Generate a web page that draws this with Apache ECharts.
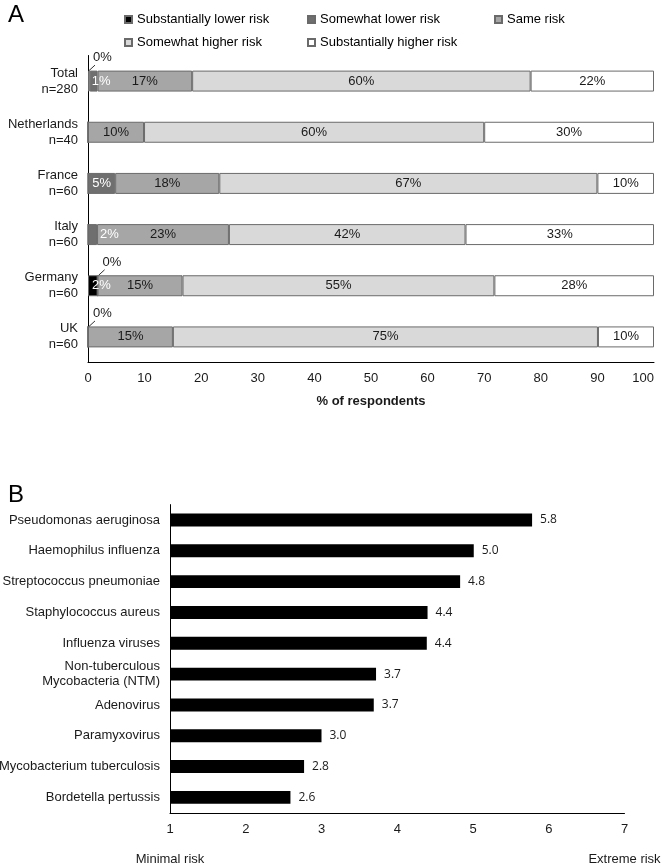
<!DOCTYPE html>
<html><head><meta charset="utf-8">
<script src="https://cdn.jsdelivr.net/npm/echarts@6/dist/echarts.min.js"></script>
<style>html,body{margin:0;padding:0;background:#fff}#c{width:661px;height:865px}</style>
</head><body><div id="c"></div>
<script>
// ---------- Panel A data ----------
const countries = ['Total\nn=280', 'Netherlands\nn=40', 'France\nn=60', 'Italy\nn=60', 'Germany\nn=60', 'UK\nn=60'];
const riskNames = ['Substantially lower risk', 'Somewhat lower risk', 'Same risk', 'Somewhat higher risk', 'Substantially higher risk'];
const substantiallyLower = [0.3, 0, 0, 0, 1.7, 0];
const somewhatLower = [1.4, 0, 4.8, 1.6, 0, 0];
const sameRisk = [16.7, 9.9, 18.4, 23.3, 15.0, 15.0];
const somewhatHigher = [59.8, 60.1, 66.8, 41.8, 55.1, 75.1];
const substantiallyHigher = [21.8, 30.0, 10.0, 33.3, 28.2, 9.9];
const lblSubstantiallyLower = ['0%', '', '', '', '2%', '0%'];
const lblSomewhatLower = ['1%', '', '5%', '2%', '0%', ''];
const lblSameRisk = ['17%', '10%', '18%', '23%', '15%', '15%'];
const lblSomewhatHigher = ['60%', '60%', '67%', '42%', '55%', '75%'];
const lblSubstantiallyHigher = ['22%', '30%', '10%', '33%', '28%', '10%'];
const axisTitleA = '% of respondents';

// ---------- Panel B data ----------
const pathogens = ['Pseudomonas aeruginosa', 'Haemophilus influenza', 'Streptococcus pneumoniae', 'Staphylococcus aureus', 'Influenza viruses', 'Non-tuberculous\nMycobacteria (NTM)', 'Adenovirus', 'Paramyxovirus', 'Mycobacterium tuberculosis', 'Bordetella pertussis'];
const riskScores = [5.78, 5.01, 4.83, 4.40, 4.39, 3.72, 3.69, 3.00, 2.77, 2.59];
const scaleEndLabels = ['Minimal risk', 'Extreme risk'];

// ---------- styling ----------
const FONT = '"Liberation Sans", Arial, sans-serif';
const TXT = '#1a1a1a';
const colorsA = ['#000000', '#6f6f6f', '#a6a6a6', '#d9d9d9', '#ffffff'];
const valuesA = [substantiallyLower, somewhatLower, sameRisk, somewhatHigher, substantiallyHigher];
const labelsA = [lblSubstantiallyLower, lblSomewhatLower, lblSameRisk, lblSomewhatHigher, lblSubstantiallyHigher];
const smallLabelOffset = { '1-0': 2, '0-4': 4, '1-3': 12 };
const BAR_A = 0.41;

// leader-line labels (tiny segments), positioned at the start of the segment
const leaders = [];
valuesA.forEach((vals, s) => {
  vals.forEach((v, i) => {
    if (labelsA[s][i] && v < 1) {
      let start = 0;
      for (let k = 0; k < s; k++) start += valuesA[k][i];
      leaders.push({ value: [start, i], text: labelsA[s][i] });
    }
  });
});

const seriesA = valuesA.map((vals, s) => ({
  name: riskNames[s],
  type: 'bar',
  stack: 'A',
  xAxisIndex: 0, yAxisIndex: 0,
  barWidth: (BAR_A * 100) + '%',
  itemStyle: { color: colorsA[s], borderColor: '#6a6a6a', borderWidth: 1 },
  emphasis: { disabled: true },
  data: vals.map((v, i) => {
    const txt = labelsA[s][i];
    const key = s + '-' + i;
    const item = { value: v };
    if (!txt || v < 1) {
      item.label = { show: false };
    } else if (smallLabelOffset[key] !== undefined) {
      item.label = { show: true, formatter: txt, position: [smallLabelOffset[key], '50%'], align: 'left', verticalAlign: 'middle', color: '#ffffff', fontSize: 13, fontFamily: FONT };
    } else {
      item.label = { show: true, formatter: txt, position: 'inside', color: s <= 1 ? '#ffffff' : TXT, fontSize: 13, fontFamily: FONT };
    }
    return item;
  })
}));

const leaderSeries = {
  type: 'custom',
  xAxisIndex: 0, yAxisIndex: 0,
  silent: true, clip: false, z: 10,
  data: leaders.map(l => l.value),
  renderItem: (params, api) => {
    const p = api.coord([api.value(0), api.value(1)]);
    const band = api.size([0, 1])[1];
    const top = p[1] - band * BAR_A / 2;
    return {
      type: 'group',
      children: [
        { type: 'line', shape: { x1: p[0] + 1, y1: top, x2: p[0] + 7, y2: top - 5.5 }, style: { stroke: '#333', lineWidth: 1 } },
        { type: 'text', style: { text: leaders[params.dataIndex].text, x: p[0] + 5, y: top - 13, fill: TXT, font: '13px ' + FONT, verticalAlign: 'middle', textVerticalAlign: 'middle', align: 'left' } }
      ]
    };
  }
};

const legendPos = [[124, 13], [307, 13], [494, 13], [124, 36], [307, 36]];
const legends = riskNames.map((n, i) => ({
  data: [n], left: legendPos[i][0], top: legendPos[i][1], padding: 0,
  icon: 'rect', itemWidth: 7, itemHeight: 7, selectedMode: false,
  textStyle: { fontSize: 13, color: '#000', fontFamily: FONT }
}));

const option = {
  animation: false,
  backgroundColor: '#fff',
  textStyle: { fontFamily: FONT },
  title: [
    { text: 'A', left: 3, top: -2, padding: [5, 5], textStyle: { fontSize: 24, fontWeight: 'normal', color: '#000', fontFamily: FONT } },
    { text: 'B', left: 3, top: 478, padding: [5, 5], textStyle: { fontSize: 24, fontWeight: 'normal', color: '#000', fontFamily: FONT } }
  ],
  legend: legends,
  grid: [
    { left: 88, top: 55.5, width: 566, height: 307, containLabel: false, outerBoundsMode: 'none' },
    { left: 170, top: 504.6, width: 454.5, height: 308.2, containLabel: false, outerBoundsMode: 'none' }
  ],
  xAxis: [
    {
      gridIndex: 0, type: 'value', min: 0, max: 100, interval: 10,
      axisLine: { show: true, lineStyle: { color: '#000', width: 1 } },
      axisTick: { show: false }, splitLine: { show: false },
      axisLabel: { fontSize: 13, color: TXT, margin: 9, fontFamily: FONT, alignMaxLabel: 'right' },
      name: axisTitleA, nameLocation: 'middle', nameGap: 32,
      nameTextStyle: { fontSize: 13, fontWeight: 'bold', color: TXT, fontFamily: FONT }
    },
    {
      gridIndex: 1, type: 'value', min: 1, max: 7, interval: 1,
      axisLine: { show: true, lineStyle: { color: '#000', width: 1 } },
      axisTick: { show: false }, splitLine: { show: false },
      axisLabel: {
        margin: 9, fontFamily: FONT,
        formatter: v => v === 1 ? '{n|1}\n{e|' + scaleEndLabels[0] + '}' : (v === 7 ? '{n|7}\n{e|' + scaleEndLabels[1] + '}' : '{n|' + v + '}'),
        rich: {
          n: { fontSize: 13, lineHeight: 16, color: TXT, fontFamily: FONT },
          e: { fontSize: 13, lineHeight: 44, color: TXT, fontFamily: FONT }
        }
      }
    }
  ],
  yAxis: [
    {
      gridIndex: 0, type: 'category', data: countries, inverse: true,
      axisLine: { show: true, lineStyle: { color: '#000', width: 1 } },
      axisTick: { show: false },
      axisLabel: { fontSize: 13, lineHeight: 16, color: TXT, margin: 10, fontFamily: FONT }
    },
    {
      gridIndex: 1, type: 'category', data: pathogens, inverse: true,
      axisLine: { show: true, lineStyle: { color: '#000', width: 1 } },
      axisTick: { show: false },
      axisLabel: { fontSize: 13, lineHeight: 15, color: TXT, margin: 10, fontFamily: FONT }
    }
  ],
  series: seriesA.concat([leaderSeries, {
    type: 'bar', xAxisIndex: 1, yAxisIndex: 1,
    data: riskScores, barWidth: '42%', clip: true,
    itemStyle: { color: '#000' },
    emphasis: { disabled: true },
    label: { show: true, position: 'right', distance: 8, formatter: p => p.value.toFixed(1), fontSize: 12, color: TXT, fontFamily: '"Open Sans", ' + FONT }
  }])
};

const chart = echarts.init(document.getElementById('c'), null, { renderer: 'canvas' });
chart.setOption(option);
</script>
</body></html>
